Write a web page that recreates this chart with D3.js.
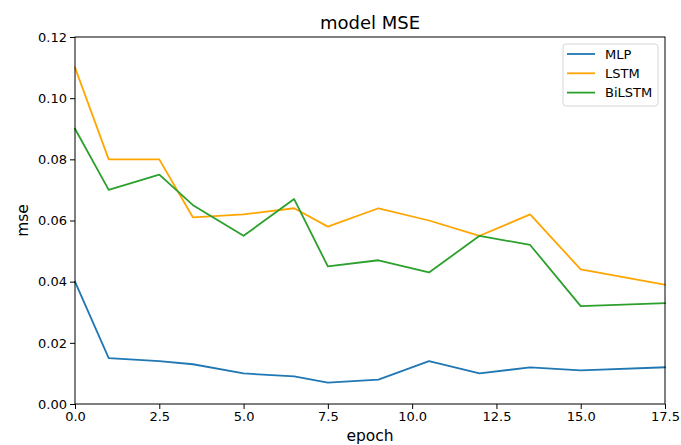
<!DOCTYPE html>
<html><head><meta charset="utf-8">
<script src="https://cdn.jsdelivr.net/npm/d3@7"></script>
<style>
html,body{margin:0;padding:0;background:#fff;}
text{font-family:"DejaVu Sans",sans-serif;fill:#000;}
</style></head>
<body><svg id="c" width="681" height="445"></svg>
<script>
const epochs = [0, 1, 2.5, 3.5, 5, 6.5, 7.5, 9, 10.5, 12, 13.5, 15, 17.5];
const mlp    = [0.040, 0.015, 0.014, 0.013, 0.010, 0.009, 0.007, 0.008, 0.014, 0.010, 0.012, 0.011, 0.012];
const lstm   = [0.110, 0.080, 0.080, 0.061, 0.062, 0.064, 0.058, 0.064, 0.060, 0.055, 0.062, 0.044, 0.039];
const bilstm = [0.090, 0.070, 0.075, 0.065, 0.055, 0.067, 0.045, 0.047, 0.043, 0.055, 0.052, 0.032, 0.033];
const seriesNames = ["MLP", "LSTM", "BiLSTM"];
const seriesColors = ["#1f77b4", "#ffa500", "#2ca02c"];
const xTicks = [0, 2.5, 5, 7.5, 10, 12.5, 15, 17.5];
const yTicks = [0, 0.02, 0.04, 0.06, 0.08, 0.10, 0.12];

const svg = d3.select("#c");
const L = 75, R = 665, T = 37, B = 404;
const x = d3.scaleLinear().domain([0, 17.5]).range([L, R]);
const y = d3.scaleLinear().domain([0, 0.12]).range([B, T]);

const series = [mlp, lstm, bilstm];
const line = d3.line().x((d, i) => x(epochs[i])).y(d => y(d));
series.forEach((s, k) => {
  svg.append("path").datum(s).attr("d", line)
    .attr("fill", "none").attr("stroke", seriesColors[k]).attr("stroke-width", 1.8)
    .attr("stroke-linejoin", "round").attr("stroke-linecap", "square");
});

// axes
const xa = svg.append("g").attr("transform", `translate(0,${B})`)
  .call(d3.axisBottom(x).tickValues(xTicks).tickFormat(d3.format(".1f")).tickSize(5).tickPadding(3).tickSizeOuter(0));
const ya = svg.append("g").attr("transform", `translate(${L},0)`)
  .call(d3.axisLeft(y).tickValues(yTicks).tickFormat(d3.format(".2f")).tickSize(5).tickPadding(3).tickSizeOuter(0));
[xa, ya].forEach(g => {
  g.selectAll("text").attr("font-size", 13).attr("font-family", "DejaVu Sans").attr("fill", "#000");
  g.selectAll("line").attr("stroke", "#000").attr("stroke-width", 1);
  g.select(".domain").remove();
});
// frame
svg.append("rect").attr("x", L).attr("y", T).attr("width", R - L).attr("height", B - T)
  .attr("fill", "none").attr("stroke", "#000").attr("stroke-width", 1);

// titles
svg.append("text").attr("x", (L + R) / 2).attr("y", 29).attr("text-anchor", "middle")
  .attr("font-size", 18).text("model MSE");
svg.append("text").attr("x", (L + R) / 2).attr("y", 441).attr("text-anchor", "middle")
  .attr("font-size", 15.5).text("epoch");
svg.append("text").attr("transform", `translate(28,${(T + B) / 2}) rotate(-90)`).attr("text-anchor", "middle")
  .attr("font-size", 15.5).text("mse");

// legend
const lg = svg.append("g");
lg.append("rect").attr("x", 563).attr("y", 44).attr("width", 95).attr("height", 62).attr("rx", 3)
  .attr("fill", "#fff").attr("fill-opacity", 0.8).attr("stroke", "#d6d6d6").attr("stroke-width", 1);
seriesNames.forEach((n, k) => {
  const yy = 54 + k * 19.3;
  lg.append("line").attr("x1", 567).attr("x2", 595).attr("y1", yy).attr("y2", yy)
    .attr("stroke", seriesColors[k]).attr("stroke-width", 1.8);
  lg.append("text").attr("x", 605).attr("y", yy).attr("dy", "0.35em").attr("font-size", 13).text(n);
});
</script></body></html>
